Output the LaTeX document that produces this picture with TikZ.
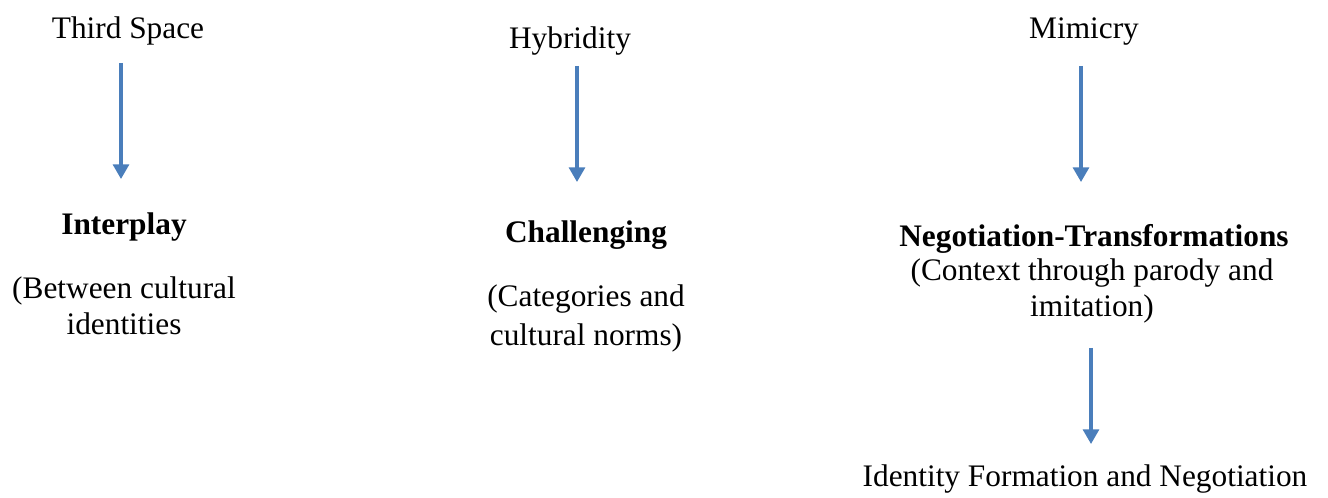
\documentclass[tikz,border=0pt]{standalone}
\usepackage{fontspec}
\setmainfont{Liberation Serif}
\usetikzlibrary{arrows.meta}
\definecolor{arrowblue}{HTML}{4A7EBB}
\begin{document}
\begin{tikzpicture}[x=0.75pt,y=-0.75pt,
  lbl/.style={anchor=base,inner sep=0pt,align=center,font=\fontsize{23.5}{27}\selectfont},
  bold/.style={lbl,font=\fontsize{23.5}{27}\selectfont\bfseries},
  flow/.style={draw=arrowblue,line width=2.3pt,-{Triangle[width=12pt,length=11pt]}}]
\useasboundingbox (0,0) rectangle (1328,498);
% top labels
\node[lbl] (ts) at (128,39) {Third Space};
\node[lbl] (hy) at (570,49) {Hybridity};
\node[lbl] (mi) at (1084,39) {Mimicry};
% middle (multi-line nodes: base = last line)
\node[bold] (ip) at (124,235) {Interplay};
\node[lbl] (ipd) at (124,335) {(Between cultural\\identities};
\node[bold] (ch) at (586,243) {Challenging};
\node[lbl,font=\fontsize{23.5}{29.5}\selectfont] (chd) at (586,346) {(Categories and\\cultural norms)};
\node[bold] (nt) at (1094,247) {Negotiation-Transformations};
\node[lbl] (ntd) at (1092,317) {(Context through parody and\\imitation)};
\node[lbl] (id) at (1085,487) {Identity Formation and Negotiation};
% arrow ends
\coordinate (a1s) at (121,63);  \coordinate (a1e) at (121,179);
\coordinate (a2s) at (577,66);  \coordinate (a2e) at (577,182);
\coordinate (a3s) at (1081,66); \coordinate (a3e) at (1081,182);
\coordinate (a4s) at (1091,348); \coordinate (a4e) at (1091,444);
\draw[flow] (a1s) -- (a1e);
\draw[flow] (a2s) -- (a2e);
\draw[flow] (a3s) -- (a3e);
\draw[flow] (a4s) -- (a4e);
\end{tikzpicture}
\end{document}
